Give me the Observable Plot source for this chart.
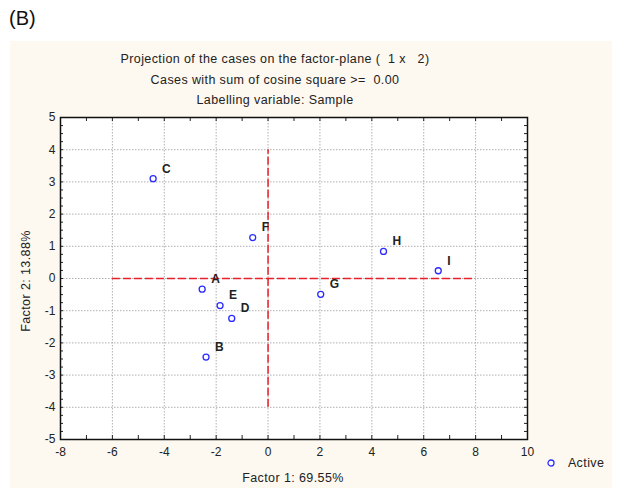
<!DOCTYPE html>
<html>
<head>
<meta charset="utf-8">
<script src="https://cdn.jsdelivr.net/npm/d3@7"></script>
<script src="https://cdn.jsdelivr.net/npm/@observablehq/plot@0.6"></script>
<style>
  body { margin: 0; background: white; }
  #root { position: relative; width: 629px; height: 488px; overflow: hidden; font-family: Arial, "Liberation Sans", sans-serif; color: #222; }
  .abs { position: absolute; white-space: nowrap; }
  .t { font-size: 12.5px; letter-spacing: 0.4px; line-height: 14px; }
  .title { left: 0; width: 550px; text-align: center; }
</style>
</head>
<body>
<div id="root">
  <div class="abs" style="left:10px;top:41px;width:602px;height:447px;background:#fdf8f0"></div>
  <div class="abs" style="left:9px;top:7px;font-size:20px;color:#111">(B)</div>
  <div id="chart" class="abs" style="left:0;top:0"></div>
  <div class="abs title t" style="top:52px">Projection of the cases on the factor-plane (&nbsp; 1 x &nbsp; 2)</div>
  <div class="abs title t" style="top:73px">Cases with sum of cosine square &gt;= &nbsp;0.00</div>
  <div class="abs title t" style="top:93px">Labelling variable: Sample</div>
  <div class="abs t" style="left:193px;width:200px;text-align:center;top:471px">Factor 1: 69.55%</div>
  <div class="abs t" style="left:26px;top:281px;transform:translate(-50%,-50%) rotate(-90deg)">Factor 2: 13.88%</div>
  <div class="abs t" style="left:546px;top:455px">
    <svg width="10" height="10" style="vertical-align:middle"><circle cx="5" cy="5" r="3" fill="white" stroke="#2b2bff" stroke-width="1.3"></circle></svg>
    <span style="margin-left:8px;vertical-align:middle">Active</span>
  </div>
</div>
<script>
// Data
const samples = ["A", "B", "C", "D", "E", "F", "G", "H", "I"];
const factor1 = [-2.54, -2.39, -4.43, -1.40, -1.85, -0.59, 2.03, 4.45, 6.56];
const factor2 = [-0.33, -2.44, 3.10, -1.24, -0.84, 1.27, -0.49, 0.84, 0.24];

const xTickLabels = [-8, -6, -4, -2, 0, 2, 4, 6, 8, 10];
const yTickLabels = [-5, -4, -3, -2, -1, 0, 1, 2, 3, 4, 5];
const xGridValues = [-6, -4, -2, 0, 2, 4, 6, 8];
const yGridValues = [-4, -3, -2, -1, 0, 1, 2, 3, 4];
const xMinorTicks = d3.range(-8, 10.01, 1);
const yMinorTicks = d3.range(-5, 5.01, 0.25);
const refH = [{y: 0, x1: -6, x2: 8}];
const refV = [{x: 0, y1: -4, y2: 4}];

const points = samples.map((s, i) => ({label: s, f1: factor1[i], f2: factor2[i]}));

const W = 629, H = 488, mL = 60, mR = 102, mT = 117, mB = 49;
const fw = W - mL - mR, fh = H - mT - mB;
const tk = 4;
const fmt = d => String(d); // hyphen-minus like the original

const chart = Plot.plot({
  width: W, height: H,
  marginLeft: mL, marginRight: mR, marginTop: mT, marginBottom: mB,
  style: {background: "transparent", fontFamily: "Arial, 'Liberation Sans', sans-serif", fontSize: "12px", color: "#222", overflow: "visible"},
  x: {domain: [-8, 10]},
  y: {domain: [-5, 5]},
  marks: [
    Plot.frame({fill: "white", stroke: null}),
    Plot.gridX(xGridValues, {stroke: "#b0b0b0", strokeOpacity: 1, strokeDasharray: "1.5,1.5"}),
    Plot.gridY(yGridValues, {stroke: "#b0b0b0", strokeOpacity: 1, strokeDasharray: "1.5,1.5"}),
    Plot.ruleY(refH, {y: "y", x1: "x1", x2: "x2", stroke: "#e8202a", strokeWidth: 1.5, strokeDasharray: "8,3"}),
    Plot.ruleX(refV, {x: "x", y1: "y1", y2: "y2", stroke: "#e8202a", strokeWidth: 1.5, strokeDasharray: "8,3"}),
    // inward ticks
    Plot.ruleX(xMinorTicks, {stroke: "#222", insetTop: fh - tk}),
    Plot.ruleX(xMinorTicks, {stroke: "#222", insetBottom: fh - tk}),
    Plot.ruleY(yMinorTicks, {stroke: "#222", insetRight: fw - tk + 1}),
    Plot.ruleY(yMinorTicks, {stroke: "#222", insetLeft: fw - tk + 1}),
    Plot.frame({stroke: "#111", strokeWidth: 1.5}),
    Plot.dot(points, {x: "f1", y: "f2", r: 3, stroke: "#2b2bff", fill: "white", strokeWidth: 1.3}),
    Plot.text(points, {x: "f1", y: "f2", text: "label", dx: 9, dy: -10, textAnchor: "start", fontWeight: "bold", fontSize: 12, fill: "#222"}),
    Plot.axisX(xTickLabels, {tickSize: 0, tickPadding: 8, label: null, fontSize: 12, fill: "#222", tickFormat: fmt}),
    Plot.axisY(yTickLabels, {tickSize: 0, tickPadding: 5, label: null, fontSize: 12, fill: "#222", tickFormat: fmt})
  ]
});
document.getElementById("chart").appendChild(chart);
</script>
</body>
</html>
